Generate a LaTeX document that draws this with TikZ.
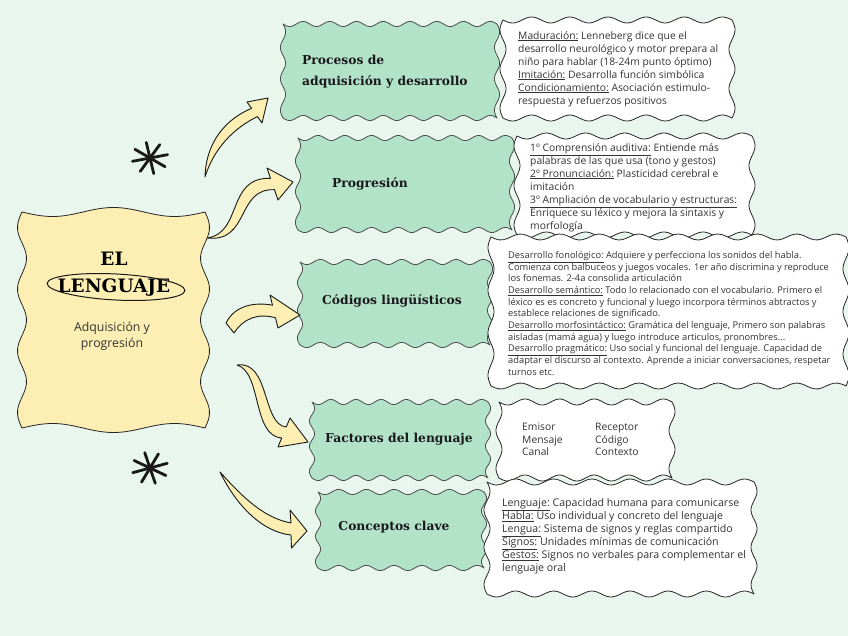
\documentclass[tikz,border=0pt]{standalone}
\usepackage{fontspec}
\setmainfont{Open Sans}
\newfontfamily\headfont{DejaVu Serif}
\usetikzlibrary{shapes.geometric}
\definecolor{bg}{HTML}{E8F6EE}
\definecolor{mint}{HTML}{B2E2C8}
\definecolor{paper}{HTML}{FDEFB3}
\definecolor{ink}{HTML}{333333}
% #1 style, #2 x1, #3 y1, #4 x2, #5 y2, #6 waves along horizontal sides, #7 waves along vertical sides, #8 amplitude
\newcommand{\wavybox}[8]{%
  \path[#1] plot[domain=0:1,samples=90,smooth] ({#2+(#4-#2)*\x},{#3+#8*sin(\x*#6*360)})
   -- plot[domain=0:1,samples=50,smooth] ({#4+#8*sin(\x*#7*360)},{#3+(#5-#3)*\x})
   -- plot[domain=0:1,samples=90,smooth] ({#4-(#4-#2)*\x},{#5-#8*sin(\x*#6*360)})
   -- plot[domain=0:1,samples=50,smooth] ({#2-#8*sin(\x*#7*360)},{#5-(#5-#3)*\x}) -- cycle;}
\begin{document}
\begin{tikzpicture}[x=1pt,y=-1pt,
  greenbox/.style={draw=black!70, fill=mint, line width=0.8pt, line join=round},
  whitebox/.style={draw=black!85, fill=white, line width=0.8pt, line join=round},
  mainbox/.style={draw=black!85, fill=paper, line width=0.8pt, line join=round},
  gtitle/.style={font=\headfont\bfseries\fontsize{12.3}{21}\selectfont, text=black!90, inner sep=0pt, align=left},
  smalltxt/.style={font=\fontsize{10.3}{13}\selectfont, text=ink, inner sep=0pt, align=left, anchor=north west},
  tinytxt/.style={font=\fontsize{9.3}{11.7}\selectfont, text=ink, inner sep=0pt, align=left, anchor=north west},
  blockarrow/.style={draw=black!90, fill=paper, line width=0.9pt, line join=round},
  starline/.style={line width=2.8pt, line cap=round, black!90}
]
\fill[bg] (0,0) rectangle (848,636);
\useasboundingbox (0,0) rectangle (848,636);

% main node
\wavybox{mainbox}{22}{212}{205}{428}{1.5}{3.5}{4.5}
\node[font=\headfont\bfseries\fontsize{18.5}{27}\selectfont, align=center, inner sep=0pt] (title) at (114,274) {EL\\LENGUAJE};
\node[ellipse, draw=black!90, line width=1pt, minimum width=138pt, minimum height=26pt, rotate=-3] (oval) at (116,287) {};
\node[font=\fontsize{12.3}{16}\selectfont, text=ink, align=center, inner sep=0pt] (sub) at (112,336) {Adquisición y\\progresión};

% green boxes
\wavybox{greenbox}{283}{24}{497}{118}{8}{3}{2.6}
\node[gtitle, anchor=west] (t1) at (302,72) {Procesos de\\adquisición y desarrollo};
\wavybox{greenbox}{298}{138}{512}{230}{8}{3}{2.6}
\node[gtitle, anchor=west] (t2) at (332,184) {Progresión};
\wavybox{greenbox}{300}{262}{490}{345}{7}{3}{2.6}
\node[gtitle] (t3) at (392,301) {Códigos lingüísticos};
\wavybox{greenbox}{312}{402}{488}{478}{7}{3}{2.6}
\node[gtitle] (t4) at (399,439) {Factores del lenguaje};
\wavybox{greenbox}{318}{492}{484}{568}{6}{3}{2.6}
\node[gtitle] (t5) at (394,527) {Conceptos clave};

% white boxes
\wavybox{whitebox}{503}{20}{732}{118}{6}{2.5}{3}
\node[smalltxt] (d1) at (518,31) {\underline{Maduración:} Lenneberg dice que el\\
desarrollo neurológico y motor prepara al\\
niño para hablar (18-24m punto óptimo)\\
\underline{Imitación:} Desarrolla función simbólica\\
\underline{Condicionamiento:} Asociación estimulo-\\
respuesta y refuerzos positivos};

\wavybox{whitebox}{517}{136}{752}{235}{6}{2.5}{3}
\node[smalltxt] (d2) at (530,143) {\underline{1º Comprensión auditiva:} Entiende más\\
palabras de las que usa (tono y gestos)\\
\underline{2º Pronunciación:} Plasticidad cerebral e\\
imitación\\
\underline{3º Ampliación de vocabulario y estructuras:}\\
Enriquece su léxico y mejora la sintaxis y\\
morfología};

\wavybox{whitebox}{491}{237}{846}{386}{9}{3.5}{3}
\node[tinytxt] (d3) at (508,251) {\underline{Desarrollo fonológico:} Adquiere y perfecciona los sonidos del habla.\\
Comienza con balbuceos y juegos vocales. 1er año discrimina y reproduce\\
los fonemas. 2-4a consolida articulación\\
\underline{Desarrollo semántico:} Todo lo relacionado con el vocabulario. Primero el\\
léxico es es concreto y funcional y luego incorpora términos abtractos y\\
establece relaciones de significado.\\
\underline{Desarrollo morfosintáctico:} Gramática del lenguaje, Primero son palabras\\
aisladas (mamá agua) y luego introduce articulos, pronombres...\\
\underline{Desarrollo pragmático:} Uso social y funcional del lenguaje. Capacidad de\\
adaptar el discurso al contexto. Aprende a iniciar conversaciones, respetar\\
turnos etc.};

\wavybox{whitebox}{499}{402}{672}{478}{5}{2}{3}
\node[smalltxt, font=\fontsize{10.3}{12.5}\selectfont] (d4a) at (522,423) {Emisor\\Mensaje\\Canal};
\node[smalltxt, font=\fontsize{10.3}{12.5}\selectfont] (d4b) at (595,423) {Receptor\\Código\\Contexto};

\wavybox{whitebox}{487}{482}{754}{594}{7}{3}{3}
\node[smalltxt, font=\fontsize{10.6}{13}\selectfont] (d5) at (502,498) {\underline{Lenguaje:} Capacidad humana para comunicarse\\
\underline{Habla:} Uso individual y concreto del lenguaje\\
\underline{Lengua:} Sistema de signos y reglas compartido\\
\underline{Signos:} Unidades mínimas de comunicación\\
\underline{Gestos:} Signos no verbales para complementar el\\
lenguaje oral};

% arrows
\coordinate (a1s) at (205,177);
\coordinate (a1e) at (268,98);
\draw[blockarrow] (a1s) .. controls (206,140) and (228,118) .. (251.6,108.4)
  -- (247,102) -- (a1e) -- (262,123) -- (257.4,116.6)
  .. controls (234,128) and (214,148) .. (a1s) -- cycle;

\coordinate (a2s) at (207,238);
\coordinate (a2e) at (293,182);
\draw[blockarrow] (a2s) .. controls (243,233) and (226,177) .. (270.5,178.3)
  -- (267,168) -- (a2e) -- (278,200) -- (274.5,189.7)
  .. controls (236,188) and (250,243) .. (a2s) -- cycle;

\coordinate (a3s) at (226,323);
\coordinate (a3e) at (300,315);
\draw[blockarrow] (a3s) .. controls (235,305) and (255,302) .. (272.5,305.2)
  -- (270,295) -- (a3e) -- (278,328) -- (275.5,317.8)
  .. controls (258,313) and (244,318) .. (234,333) -- cycle;

\coordinate (a4s) at (237,365);
\coordinate (a4e) at (308,442);
\draw[blockarrow] (a4s) .. controls (270,360) and (262,425) .. (286.3,427)
  -- (290,418) -- (a4e) -- (278,447) -- (281.7,438)
  .. controls (252,436) and (262,372) .. (a4s) -- cycle;

\coordinate (a5s) at (220,472);
\coordinate (a5e) at (307,531);
\draw[blockarrow] (a5s) .. controls (245,500) and (265,518) .. (291,523)
  -- (290,510) -- (a5e) -- (291.5,548) -- (291,535)
  .. controls (262,532) and (236,505) .. (a5s) -- cycle;

% stars
\foreach \cx/\cy/\r in {150/158/0, 150/468/5}{
  \foreach \a in {12,57,102,147}{
    \draw[starline] ({\cx+18*cos(\a+\r)},{\cy-16*sin(\a+\r)}) -- ({\cx-18*cos(\a+\r)},{\cy+16*sin(\a+\r)});
  }
}
\end{tikzpicture}
\end{document}
